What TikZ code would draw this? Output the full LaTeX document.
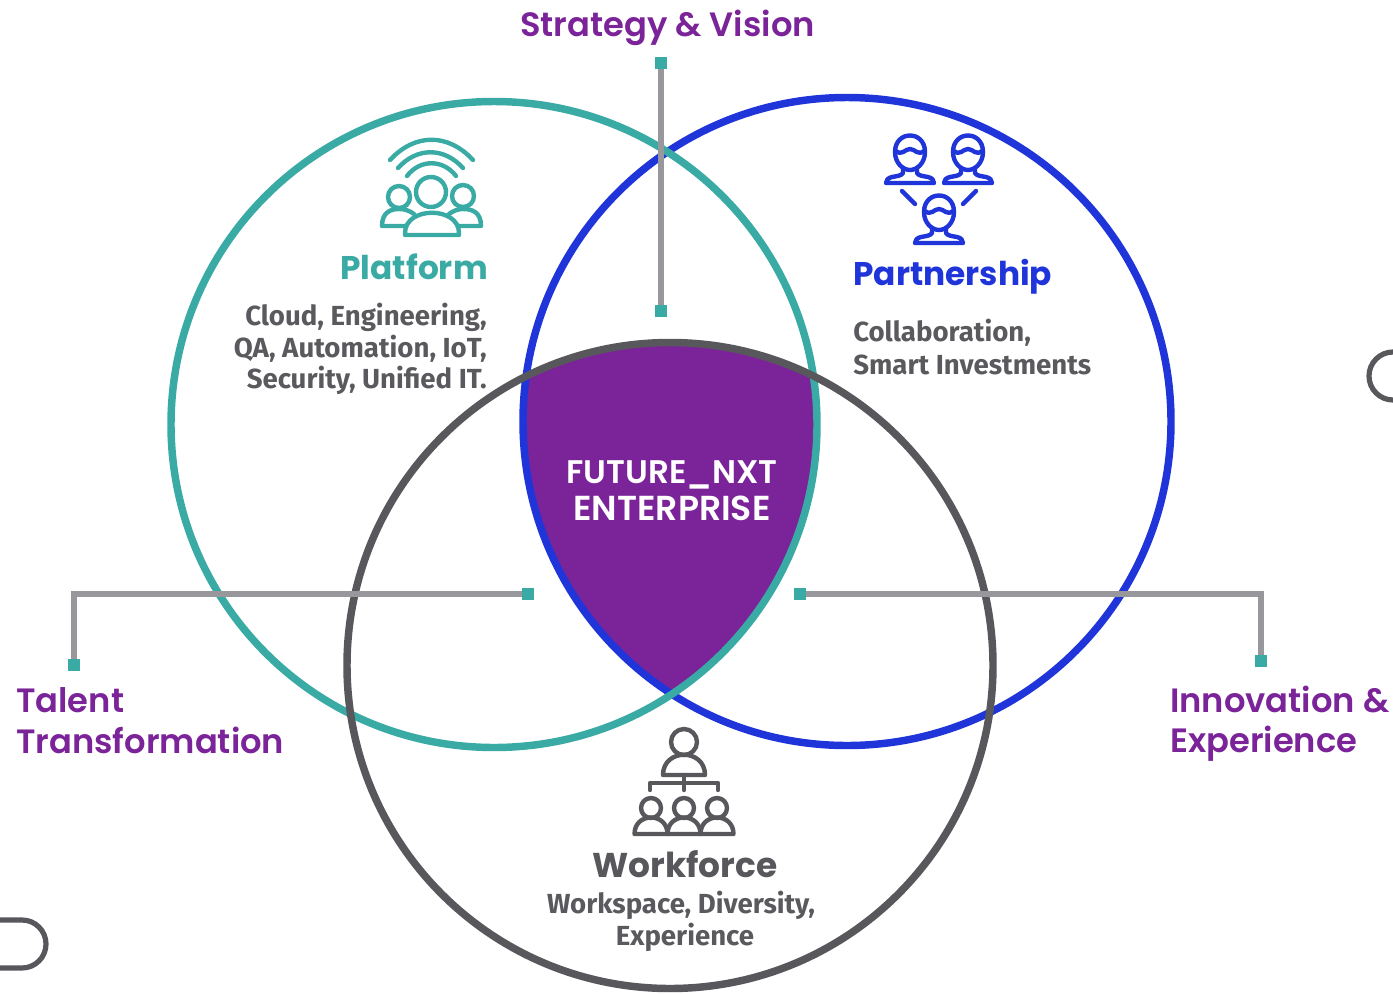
\documentclass[tikz,border=0pt]{standalone}
\usepackage{fontspec}
\setmainfont{Fira Sans}
\newfontfamily\headfont[BoldFont={Poppins SemiBold}]{Poppins}
\newfontfamily\heavyfont[BoldFont={Poppins Bold}]{Poppins}
\definecolor{teal1}{HTML}{3AAAA4}
\definecolor{blue1}{HTML}{1F35D9}
\definecolor{gray1}{HTML}{58585C}
\definecolor{line1}{HTML}{98989C}
\definecolor{purp}{HTML}{7B2398}
\definecolor{txt}{HTML}{5A5A5E}
\tikzset{
  ring/.style={line width=5.6pt},
  leader/.style={line width=4.2pt,draw=line1},
  dot/.style={fill=teal1,minimum size=9.5pt,inner sep=0pt,outer sep=0pt,draw=none,rectangle},
  title/.style={font=\headfont\fontsize{25.3}{25.3}\selectfont\bfseries,text=purp,inner sep=0pt},
  subject/.style={font=\heavyfont\fontsize{24.6}{24.6}\selectfont\bfseries,inner sep=0pt},
  core/.style={font=\headfont\fontsize{24.5}{24.5}\selectfont\bfseries,text=white,inner sep=0pt},
  body/.style={font=\fontsize{20.7}{20.7}\selectfont\bfseries,text=txt,inner sep=0pt},
  ico/.style={line width=3.3pt,line cap=round,line join=round},
  mate/.pic={
    \draw[ico] (-15,-1) .. controls (-15,-23) and (15,-23) .. (15,-1) .. controls (15,10) and (7,17) .. (0,17) .. controls (-7,17) and (-15,10) .. (-15,-1) -- cycle;
    \draw[ico] (-14,-2) .. controls (-8,3) and (-5,-4) .. (0,-4) .. controls (5,-4) and (8,3) .. (14,-2);
    \draw[ico] (-7,15) -- (-7,20) .. controls (-9,23) and (-13,23) .. (-18,24) .. controls (-22,25) and (-24,27) .. (-24,30) -- (24,30) .. controls (24,27) and (22,25) .. (18,24) .. controls (13,23) and (9,23) .. (7,20) -- (7,15);
  }
}
\begin{document}
\begin{tikzpicture}[x=0.75pt,y=-0.75pt]
\useasboundingbox (0,0) rectangle (1393,993);
% centre region
\begin{scope}
  \clip (494,424.5) circle[radius=323];
  \clip (847,421.5) circle[radius=324];
  \fill[purp] (670,665.5) circle[radius=323];
\end{scope}
% rings
\node[circle,draw=blue1,ring,minimum size=486pt,inner sep=0pt] (partner) at (847,421.5) {};
\node[circle,draw=teal1,ring,minimum size=484.5pt,inner sep=0pt] (plat) at (494,424.5) {};
\node[circle,draw=gray1,ring,minimum size=484.5pt,inner sep=0pt] (work) at (670,665.5) {};
% partial shapes at the edges
\draw[line width=3.9pt,draw=gray1] (1393,352) arc[start angle=-90,end angle=-270,radius=24];
\draw[line width=3.9pt,draw=gray1] (0,920) -- (22,920) arc[start angle=-90,end angle=90,radius=24] -- (0,968);
% leaders
\node[dot] (s1) at (661,63) {};
\node[dot] (s2) at (661,311) {};
\node[dot] (t1) at (74,665) {};
\node[dot] (t2) at (528,594) {};
\node[dot] (i1) at (800,594) {};
\node[dot] (i2) at (1261,661) {};
\draw[leader] (s1) -- (s2);
\draw[leader] (t1) |- (t2);
\draw[leader] (i2) |- (i1);
% titles
\node[title,anchor=base west] (strat) at (520,36) {Strategy \& Vision};
\node[title,anchor=base west] (tal1) at (16,712) {Talent};
\node[title,anchor=base west] (tal2) at (16,753) {Transformation};
\node[title,anchor=base west] (inn1) at (1170,712) {Innovation \&};
\node[title,anchor=base west] (inn2) at (1170,752) {Experience};
\node[subject,anchor=base east,text=teal1] (pt) at (488,279) {Platform};
\node[subject,anchor=base west,text=blue1] (pn) at (853,285) {Partnership};
\node[subject,anchor=base,text=gray1,font=\heavyfont\fontsize{25.8}{25.8}\selectfont\bfseries] (wf) at (685,877) {Workforce};
% body
\node[body,anchor=base east] (b1) at (487,325) {Cloud, Engineering,};
\node[body,anchor=base east] (b2) at (487,357) {QA, Automation, IoT,};
\node[body,anchor=base east] (b3) at (487,388) {Security, Unified IT.};
\node[body,anchor=base west] (c1) at (853,341) {Collaboration,};
\node[body,anchor=base west] (c2) at (853,374) {Smart Investments};
\node[body,anchor=base] (w1) at (681,913) {Workspace, Diversity,};
\node[body,anchor=base] (w2) at (685,945) {Experience};
\node[core,anchor=base] (f1) at (672,483) {FUTURE\_NXT};
\node[core,anchor=base,font=\headfont\fontsize{26}{26}\selectfont\bfseries] (f2) at (672,520) {ENTERPRISE};
% platform icon
\begin{scope}[draw=teal1]
  \draw[ico] (390,160) .. controls (415,133) and (448,133) .. (473,160);
  \draw[ico] (398,168) .. controls (417,147) and (444,147) .. (463,168);
  \draw[ico] (407,176) .. controls (420,159) and (443,159) .. (456,176);
  \draw[ico] (431,192) circle[radius=15];
  \draw[ico] (399,197) circle[radius=11];
  \draw[ico] (463,196) circle[radius=11];
  \draw[ico] (405,235) -- (459,235) -- (459,233) .. controls (459,206) and (405,206) .. (405,233) -- cycle;
  \draw[ico] (405,226) -- (382,226) .. controls (382,212) and (391,209) .. (399,209) .. controls (405,209) and (410,211) .. (414,214);
  \draw[ico] (459,226) -- (481,226) .. controls (481,212) and (472,209) .. (463,209) .. controls (458,209) and (453,211) .. (449,214);
\end{scope}
% partnership icon
\begin{scope}[draw=blue1]
  \pic at (910,153) {mate};
  \pic at (968,153) {mate};
  \pic at (939,213) {mate};
  \draw[ico] (902,191) -- (915,204);
  \draw[ico] (976,191) -- (963,204);
\end{scope}
% workforce icon
\begin{scope}[draw=gray1]
  \draw[ico] (684,742) circle[radius=13];
  \draw[ico] (663,775) .. controls (663,748) and (705,748) .. (705,775) -- cycle;
  \draw[ico] (684,775) -- (684,790);
  \draw[ico] (650,790) -- (650,783) -- (718,783) -- (718,790);
  \foreach \cx in {651,684,717}{
    \draw[ico] (\cx,808) circle[radius=10];
    \draw[ico] (\cx-16.5,834) .. controls (\cx-16.5,812) and (\cx+16.5,812) .. (\cx+16.5,834) -- cycle;
  }
\end{scope}
\end{tikzpicture}
\end{document}
